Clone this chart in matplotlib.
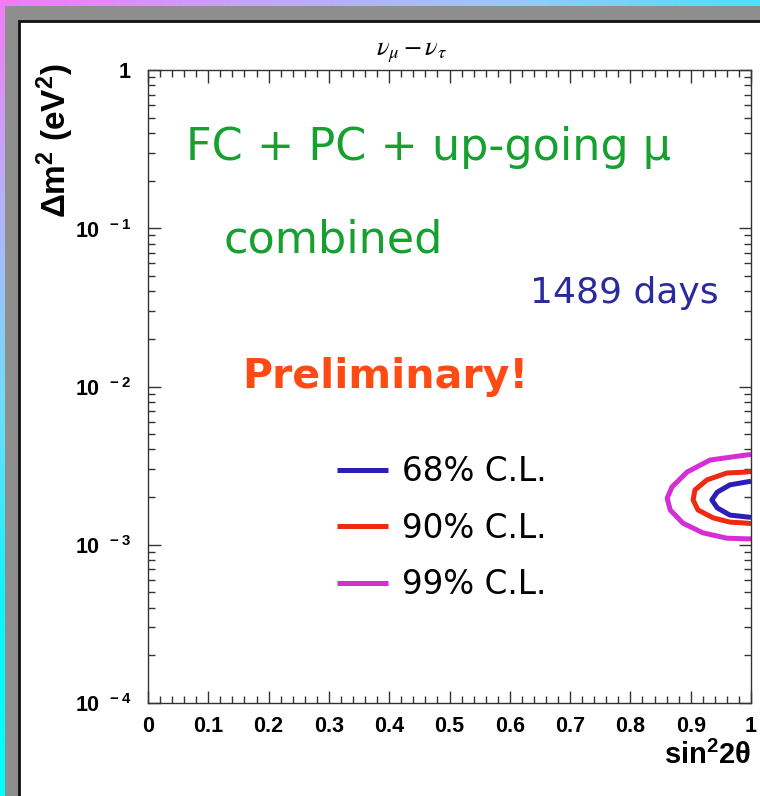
import numpy as np
import matplotlib
matplotlib.use("Agg")
import matplotlib.pyplot as plt
from matplotlib.colors import LinearSegmentedColormap
from matplotlib.patches import Rectangle
from matplotlib.ticker import FixedLocator, LogLocator, NullFormatter, FuncFormatter

plt.rcParams['font.family'] = ['DejaVu Sans']
plt.rcParams['mathtext.fontset'] = 'custom'
plt.rcParams['mathtext.rm'] = 'Liberation Sans'
plt.rcParams['mathtext.bf'] = 'Liberation Sans:bold'
plt.rcParams['mathtext.it'] = 'Liberation Sans:italic'

# allowed regions (sin^2 2theta, dm^2 in eV^2)
cl68_x = [1.0, 0.992, 0.965, 0.944, 0.935, 0.944, 0.965, 0.992, 1.0]
cl68_y = [2.52e-3, 2.49e-3, 2.39e-3, 2.15e-3, 1.92e-3, 1.71e-3, 1.54e-3, 1.50e-3, 1.49e-3]
cl90_x = [1.0, 0.992, 0.960, 0.927, 0.907, 0.904, 0.912, 0.937, 0.965, 0.992, 1.0]
cl90_y = [2.90e-3, 2.88e-3, 2.84e-3, 2.57e-3, 2.22e-3, 1.92e-3, 1.66e-3, 1.48e-3, 1.39e-3, 1.37e-3, 1.36e-3]
cl99_x = [1.0, 0.992, 0.932, 0.894, 0.869, 0.861, 0.866, 0.887, 0.920, 0.960, 0.992, 1.0]
cl99_y = [3.72e-3, 3.69e-3, 3.43e-3, 2.88e-3, 2.32e-3, 1.97e-3, 1.66e-3, 1.37e-3, 1.19e-3, 1.10e-3, 1.09e-3, 1.09e-3]

cl_labels = ['68% C.L.', '90% C.L.', '99% C.L.']
cl_colors = ['#2a1fb8', '#ee2a10', '#d62ed6']

x_ticks = [0, 0.1, 0.2, 0.3, 0.4, 0.5, 0.6, 0.7, 0.8, 0.9, 1.0]
x_ticklabels = ['0', '0.1', '0.2', '0.3', '0.4', '0.5', '0.6', '0.7', '0.8', '0.9', '1']
y_ticks = [1e-4, 1e-3, 1e-2, 1e-1, 1]

W, H = 760, 796
fig = plt.figure(figsize=(W / 100, H / 100), dpi=100)

# --- slide-like frame around the plot ---
bg = fig.add_axes([0, 0, 1, 1], zorder=-10)
bg.axis('off')
top_cmap = LinearSegmentedColormap.from_list('top', ['#f27cf4', '#c4a6f8', '#9cc8fa', '#48e4f4'])
left_cmap = LinearSegmentedColormap.from_list('left', ['#f27cf4', '#b8b0fa', '#70dcfc', '#10f4fc', '#00ffff'])
bg.imshow(np.linspace(0, 1, 256)[None, :], extent=(0, W, 6, 0), cmap=top_cmap, aspect='auto')
bg.imshow(np.linspace(0, 1, 256)[:, None], extent=(0, 5, H, 0), cmap=left_cmap, aspect='auto')
bg.add_patch(Rectangle((5, 6), W, H, facecolor='#8e8e8e', edgecolor='none'))
bg.add_patch(Rectangle((19, 21), W, H, facecolor='white', edgecolor='#111111', lw=2))
bg.set_xlim(0, W)
bg.set_ylim(H, 0)

# --- main plot ---
l, r, t, b = 148, 751, 70, 703
ax = fig.add_axes([l / W, (H - b) / H, (r - l) / W, (b - t) / H])
ax.set_facecolor('none')
ax.set_yscale('log')
ax.set_xlim(0, 1)
ax.set_ylim(1e-4, 1)

for xs, ys, c, lab in zip([cl68_x, cl90_x, cl99_x], [cl68_y, cl90_y, cl99_y], cl_colors, cl_labels):
    ax.plot(xs, ys, color=c, lw=3.6, label=lab, solid_capstyle='butt', solid_joinstyle='round')

ax.xaxis.set_major_locator(FixedLocator(x_ticks))
ax.xaxis.set_minor_locator(FixedLocator(np.arange(0, 1.001, 0.02)))
ax.set_xticklabels(x_ticklabels)
ax.yaxis.set_major_locator(FixedLocator(y_ticks))
ax.yaxis.set_minor_locator(LogLocator(base=10, subs=np.arange(2, 10)))
ax.yaxis.set_minor_formatter(NullFormatter())


def ylab(v, pos):
    e = int(round(np.log10(v)))
    if e == 0:
        return r'$\mathbf{1}$'
    return r'$\mathbf{10^{\ \ %d}}$' % e


ax.yaxis.set_major_formatter(FuncFormatter(ylab))
ax.tick_params(which='both', direction='in', top=True, right=True, color='#333333', width=1)
ax.tick_params(which='major', length=9)
ax.tick_params(which='minor', length=5)
ax.tick_params(axis='x', which='major', pad=9, labelsize=15.5)
ax.tick_params(axis='y', which='major', pad=12, labelsize=15.5)
for lbl in ax.get_xticklabels():
    lbl.set_fontfamily('Liberation Sans')
    lbl.set_fontweight('bold')
for s in ax.spines.values():
    s.set_color('#333333')
    s.set_linewidth(1)

ax.set_xlabel(r'$\mathbf{sin^2 2\theta}$', loc='right', fontsize=21)
ax.xaxis.set_label_coords(1.0, -0.060)
ax.set_ylabel(r'$\mathbf{\Delta m^2\ (eV^2)}$', loc='top', fontsize=24)
ax.yaxis.set_label_coords(-0.12, 1.01)

fig.text(412 / W, (H - 55) / H, r'$\nu_\mu - \nu_\tau$', fontsize=19, ha='center', va='baseline',
         math_fontfamily='stix')

ax.text(0.063, 0.858, u'FC + PC + up-going \u03bc', transform=ax.transAxes, fontsize=32,
        color='#16a030', va='baseline', ha='left')
ax.text(0.126, 0.711, 'combined', transform=ax.transAxes, fontsize=32,
        color='#16a030', va='baseline', ha='left')
ax.text(0.633, 0.632, '1489 days', transform=ax.transAxes, fontsize=26,
        color='#2a2a9c', va='baseline', ha='left')
ax.text(0.156, 0.498, 'Preliminary!', transform=ax.transAxes, fontsize=29.5,
        color='#ff4a14', va='baseline', ha='left', fontweight='bold')

ax.legend(loc='upper left', bbox_to_anchor=((337 - l) / (r - l), (b - 455) / (b - t)),
          frameon=False, fontsize=23.5, handlelength=1.55, handletextpad=0.45,
          labelspacing=0.72, borderpad=0, borderaxespad=0)

fig.savefig('out.png', dpi=100)
